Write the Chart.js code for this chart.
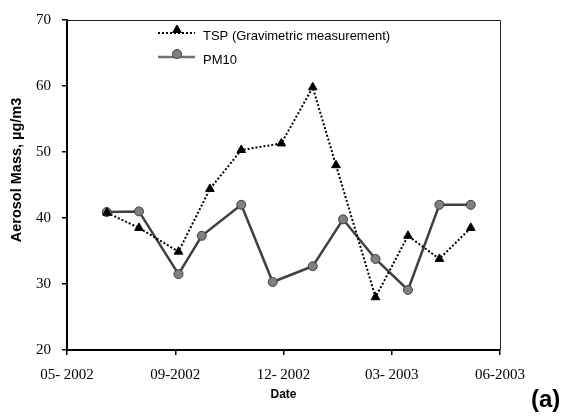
<!DOCTYPE html>
<html>
<head>
<meta charset="utf-8">
<script src="https://cdn.jsdelivr.net/npm/chart.js@4/dist/chart.umd.min.js"></script>
<style>
body { margin: 0; background: #fff; }
#wrap { position: relative; width: 568px; height: 418px; }
#panel { position: absolute; left: 531px; top: 387px; font: bold 24px Arial, "Liberation Sans", sans-serif; color: #000; line-height: 1; }
</style>
</head>
<body>
<div id="wrap">
  <canvas id="aerosolChart" width="568" height="418"></canvas>
  <div id="panel">(a)</div>
</div>
<script>
// x positions are in units of the (evenly spaced) date ticks below
const dateTicks = ['05- 2002', '09-2002', '12- 2002', '03- 2003', '06-2003'];

const tspX = [0.37, 0.665, 1.03, 1.32, 1.61, 1.98, 2.27, 2.485, 2.85, 3.15, 3.44, 3.73];
const tspMass = [40.8, 38.5, 34.9, 44.4, 50.3, 51.3, 59.8, 48.0, 28.0, 37.3, 33.8, 38.5];

const pm10X = [0.367, 0.665, 1.03, 1.245, 1.61, 1.90, 2.27, 2.55, 2.85, 3.15, 3.44, 3.73];
const pm10Mass = [40.9, 41.0, 31.5, 37.3, 42.0, 30.3, 32.7, 39.8, 33.8, 29.1, 42.0, 42.0];

const legendLabels = ['TSP (Gravimetric measurement)', 'PM10'];
const yTitle = 'Aerosol Mass, µg/m3';

function toPoints(xs, ys) {
    return xs.map((x, i) => ({ x: x, y: ys[i] }));
}

// frame on top/right, y title (sits a bit above centre), legend inside the plot
const framePlugin = {
    id: 'frame',
    beforeDatasetsDraw(chart) {
        const { ctx, chartArea } = chart;
        ctx.save();
        ctx.strokeStyle = '#222';
        ctx.lineWidth = 1;
        ctx.beginPath();
        ctx.moveTo(chartArea.left, chartArea.top + 0.5);
        ctx.lineTo(chartArea.right + 0.5, chartArea.top + 0.5);
        ctx.lineTo(chartArea.right + 0.5, chartArea.bottom);
        ctx.stroke();
        ctx.restore();
    },
    afterDraw(chart) {
        const ctx = chart.ctx;
        ctx.save();
        ctx.translate(17, 170);
        ctx.rotate(-Math.PI / 2);
        ctx.fillStyle = '#000';
        ctx.font = 'bold 14.5px Arial, "Liberation Sans", sans-serif';
        ctx.textAlign = 'center';
        ctx.textBaseline = 'middle';
        ctx.fillText(yTitle, 0, 0);
        ctx.restore();

        ctx.save();
        chart.data.datasets.forEach((ds, i) => {
            const y = 33 + i * 24;
            ctx.strokeStyle = i === 1 ? '#707070' : ds.borderColor;
            ctx.lineWidth = ds.borderWidth;
            ctx.setLineDash(ds.borderDash || []);
            ctx.beginPath();
            ctx.moveTo(158, y);
            ctx.lineTo(195, y);
            ctx.stroke();
            ctx.setLineDash([]);
            ctx.fillStyle = ds.pointBackgroundColor;
            ctx.strokeStyle = ds.pointBorderColor;
            ctx.lineWidth = ds.pointBorderWidth;
            Chart.helpers.drawPoint(ctx, {
                pointStyle: ds.pointStyle,
                radius: ds.pointRadius,
                borderWidth: ds.pointBorderWidth
            }, 177, y - 3);
            ctx.fillStyle = '#000';
            ctx.font = '13px Arial, "Liberation Sans", sans-serif';
            ctx.textBaseline = 'middle';
            ctx.fillText(legendLabels[i], 203, y + 3);
        });
        ctx.restore();
    }
};

const ctx = document.getElementById('aerosolChart').getContext('2d');

const chart = new Chart(ctx, {
    type: 'line',
    data: {
        datasets: [{
            label: legendLabels[0],
            data: toPoints(tspX, tspMass),
            borderColor: '#000',
            borderWidth: 2,
            borderDash: [2, 2],
            pointStyle: 'triangle',
            pointRadius: 5,
            pointBackgroundColor: '#000',
            pointBorderColor: '#000',
            pointBorderWidth: 1,
            fill: false
        }, {
            label: legendLabels[1],
            data: toPoints(pm10X, pm10Mass),
            borderColor: '#404040',
            borderWidth: 2.5,
            pointStyle: 'circle',
            pointRadius: 4.5,
            pointBackgroundColor: '#808080',
            pointBorderColor: '#404040',
            pointBorderWidth: 1,
            fill: false
        }]
    },
    options: {
        responsive: false,
        animation: false,
        layout: { padding: { top: 15, right: 68, left: 0, bottom: 0 } },
        plugins: {
            legend: { display: false },
            tooltip: { enabled: false }
        },
        scales: {
            x: {
                type: 'linear',
                min: 0,
                max: 4,
                afterFit(scale) { scale.height = 68; },
                afterBuildTicks(scale) {
                    scale.ticks = dateTicks.map((t, i) => ({ value: i }));
                },
                border: { color: '#000', width: 2 },
                grid: { drawOnChartArea: false, drawTicks: true, tickLength: 5, color: '#000', lineWidth: 1.5 },
                ticks: {
                    padding: 11,
                    maxRotation: 0,
                    color: '#000',
                    font: { family: '"Times New Roman", "Liberation Serif", serif', size: 15 },
                    callback: (v) => dateTicks[Math.round(v)]
                },
                title: {
                    display: true,
                    text: 'Date',
                    color: '#000',
                    font: { family: 'Arial, "Liberation Sans", sans-serif', size: 12, weight: 'bold' },
                    padding: { top: 0, bottom: 16 }
                }
            },
            y: {
                min: 20,
                max: 70,
                afterFit(scale) { scale.width = 67; },
                border: { color: '#000', width: 2 },
                grid: { drawOnChartArea: false, drawTicks: true, tickLength: 5, color: '#000', lineWidth: 1.5 },
                ticks: {
                    stepSize: 10,
                    padding: 11,
                    color: '#000',
                    font: { family: '"Times New Roman", "Liberation Serif", serif', size: 15 }
                }
            }
        }
    },
    plugins: [framePlugin]
});
</script>
</body>
</html>
